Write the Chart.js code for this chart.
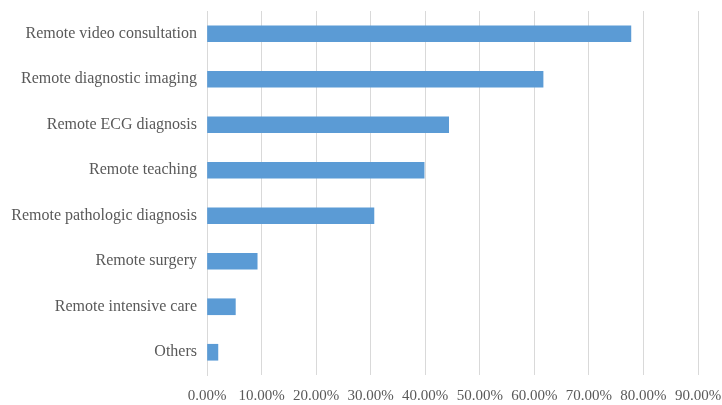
<!DOCTYPE html>
<html>
<head>
<meta charset="utf-8">
<script src="https://cdn.jsdelivr.net/npm/chart.js@4"></script>
<style>
  html, body { margin: 0; padding: 0; background: #ffffff; }
  #wrap { width: 722px; height: 405px; }
</style>
</head>
<body>
<div id="wrap"><canvas id="myChart" width="722" height="405"></canvas></div>
<script>
// Data
const services = [
  "Remote video consultation",
  "Remote diagnostic imaging",
  "Remote ECG diagnosis",
  "Remote teaching",
  "Remote pathologic diagnosis",
  "Remote surgery",
  "Remote intensive care",
  "Others"
];
const shares = [77.7, 61.6, 44.3, 39.8, 30.6, 9.2, 5.2, 2.0];
const xTicks = [0, 10, 20, 30, 40, 50, 60, 70, 80, 90];

const ctx = document.getElementById('myChart');
const gridColor = '#d9d9d9';
const textColor = '#595959';
const serif = "'Liberation Serif', 'Times New Roman', serif";

new Chart(ctx, {
  type: 'bar',
  data: {
    labels: services,
    datasets: [{
      data: shares,
      backgroundColor: '#5b9bd5',
      borderWidth: 0,
      barThickness: 16
    }]
  },
  options: {
    indexAxis: 'y',
    responsive: false,
    animation: false,
    layout: { padding: { top: 11, bottom: 0, left: 0, right: 0 } },
    plugins: {
      legend: { display: false },
      tooltip: { enabled: false }
    },
    scales: {
      x: {
        min: 0,
        max: 90,
        afterBuildTicks: function (scale) {
          scale.ticks = xTicks.map(function (v) { return { value: v }; });
        },
        afterFit: function (scale) {
          // keep the 90% label right at the edge
          scale.height = 30;
          scale.paddingRight = 24;
          scale.paddingLeft = 0;
        },
        grid: { color: gridColor, lineWidth: 1, drawTicks: false },
        border: { display: false },
        ticks: {
          color: textColor,
          font: { family: serif, size: 15 },
          padding: 12,
          maxRotation: 0,
          callback: function (v) { return v.toFixed(2) + '%'; }
        }
      },
      y: {
        afterFit: function (scale) {
          scale.width = 207;
          scale.paddingTop = 0;
          scale.paddingBottom = 0;
        },
        grid: { display: false, drawTicks: false },
        border: { display: true, color: gridColor, width: 1 },
        ticks: { color: textColor, font: { family: serif, size: 16 }, padding: 10 }
      }
    }
  }
});
</script>
</body>
</html>
